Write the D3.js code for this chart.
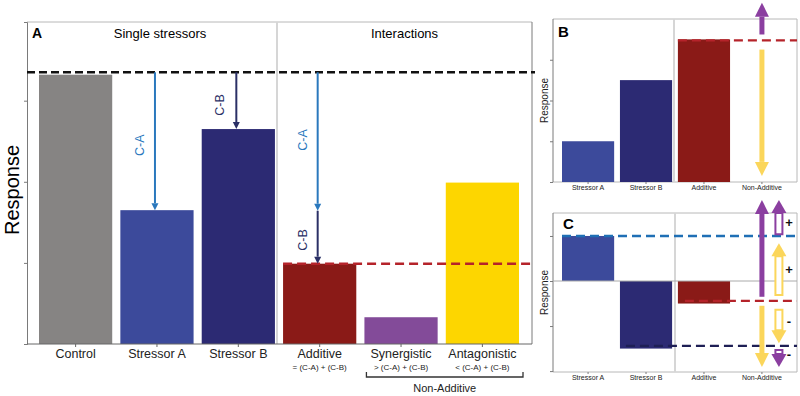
<!DOCTYPE html>
<html>
<head>
<meta charset="utf-8">
<script src="https://cdn.jsdelivr.net/npm/d3@7"></script>
<style>
  body { margin: 0; background: #fff; }
  svg text { font-family: Arial, "Liberation Sans", sans-serif; }
</style>
</head>
<body>
<div id="viz"></div>
<script>
// ---- data ----
const catsA   = ["Control", "Stressor A", "Stressor B", "Additive", "Synergistic", "Antagonistic"];
const valsA   = [3.32, 1.65, 2.65, 0.99, 0.33, 1.99];
const subA    = ["", "", "", "= (C-A) + (C-B)", "> (C-A) + (C-B)", "< (C-A) + (C-B)"];
const refA    = 3.35;                       // control reference (black dashed)
const headersA = ["Single stressors", "Interactions"];

const catsBC  = ["Stressor A", "Stressor B", "Additive", "Non-Additive"];
const valsB   = [1.0, 2.5, 3.5];
const valsC   = [1.0, -1.5, -0.5];

// conceptual arrows in panels B and C (value units), lane 0 = centre, lane 1 = right
const arrowsB = [
  { from: 3.62, to: 4.40, col: "purple", lane: 0, hollow: false },
  { from: 3.25, to: 0.15, col: "yellow", lane: 0, hollow: false }
];
const arrowsC = [
  { from: -0.35, to: 1.80, col: "purple", lane: 0, hollow: false },
  { from: -0.55, to: -1.91, col: "yellow", lane: 0, hollow: false },
  { from: 1.04, to: 1.80, col: "purple", lane: 1, hollow: true },
  { from: -0.31, to: 0.84, col: "yellow", lane: 1, hollow: true },
  { from: -0.64, to: -1.38, col: "yellow", lane: 1, hollow: true },
  { from: -1.53, to: -1.91, col: "purple", lane: 1, hollow: true }
];
const signsC = [ { v: 1.29, s: "+" }, { v: 0.24, s: "+" }, { v: -0.91, s: "-" }, { v: -1.64, s: "-" } ];

const COL = {
  "Control": "#868483", "Stressor A": "#3c4a9b", "Stressor B": "#2c2a73",
  "Additive": "#8a1a17", "Synergistic": "#834b99", "Antagonistic": "#fdd600",
  purple: "#8b3fa0", yellow: "#fbd65b", blueArrow: "#2a78bd", navyArrow: "#2b3066",
  red: "#b5232a", blueDash: "#1f6fb5", navyDash: "#1e1f55", frame: "#b8b8b8", axis: "#7a7a7a"
};

const svg = d3.select("#viz").append("svg").attr("width", 800).attr("height", 396);

// block arrow drawn from pixel coords
function blockArrow(g, x, y0, y1, shaft, headW, headL, color, hollow) {
  const dir = Math.sign(y1 - y0), yb = y1 - dir * headL;
  if (hollow) {
    g.append("path")
      .attr("d", `M${x - shaft / 2},${y0}L${x - shaft / 2},${yb}L${x + shaft / 2},${yb}L${x + shaft / 2},${y0}Z`)
      .attr("fill", "#fff").attr("stroke", color).attr("stroke-width", 2);
  } else {
    g.append("rect").attr("x", x - shaft / 2).attr("width", shaft)
      .attr("y", Math.min(y0, yb)).attr("height", Math.abs(yb - y0)).attr("fill", color);
  }
  g.append("path")
    .attr("d", `M${x - headW / 2},${yb}L${x},${y1}L${x + headW / 2},${yb}Z`)
    .attr("fill", color);
}
function thinArrow(g, x, y0, y1, color) {
  const dir = Math.sign(y1 - y0), hl = 7;
  g.append("line").attr("x1", x).attr("x2", x).attr("y1", y0).attr("y2", y1 - dir * hl)
    .attr("stroke", color).attr("stroke-width", 2);
  g.append("path").attr("d", `M${x - 3.5},${y1 - dir * hl}L${x},${y1}L${x + 3.5},${y1 - dir * hl}Z`).attr("fill", color);
}

// ================= Panel A =================
const A = { l: 27, r: 532, t: 22, b: 344, div: 277 };
const xA = d3.scaleBand().domain(catsA).range([39, 519]).paddingInner(0.1).paddingOuter(0);
const yA = d3.scaleLinear().domain([0, 3.97]).range([A.b, A.t]);
const gA = svg.append("g");

gA.append("line").attr("x1", A.l).attr("x2", A.r).attr("y1", A.t).attr("y2", A.t).attr("stroke", COL.frame);
gA.append("line").attr("x1", A.r).attr("x2", A.r).attr("y1", A.t).attr("y2", A.b).attr("stroke", COL.axis);
gA.append("line").attr("x1", A.div).attr("x2", A.div).attr("y1", A.t).attr("y2", A.b)
  .attr("stroke", "#d6d6d6").attr("stroke-width", 2);

gA.selectAll("rect.bar").data(catsA).join("rect").attr("class", "bar")
  .attr("x", d => xA(d)).attr("width", xA.bandwidth())
  .attr("y", (d, i) => yA(valsA[i])).attr("height", (d, i) => yA(0) - yA(valsA[i]))
  .attr("fill", d => COL[d]);

const axA = gA.append("g").attr("transform", `translate(${A.l},0)`)
  .call(d3.axisLeft(yA).tickValues([0, 1, 2, 3]).tickFormat("").tickSize(3));
axA.selectAll("line,path").attr("stroke", COL.axis);
const axAx = gA.append("g").attr("transform", `translate(0,${A.b})`)
  .call(d3.axisBottom(xA).tickSize(3).tickFormat(""));
axAx.select(".domain").attr("d", `M${A.l},0H${A.r}`).attr("stroke", "#666");
axAx.selectAll("line").attr("stroke", "#666");

// category labels
gA.selectAll("text.cat").data(catsA).join("text").attr("class", "cat")
  .attr("x", d => xA(d) + xA.bandwidth() / 2).attr("y", 358)
  .attr("text-anchor", "middle").attr("font-size", 12.5).attr("fill", "#222").text(d => d);
gA.selectAll("text.sub").data(subA).join("text").attr("class", "sub")
  .attr("x", (d, i) => xA(catsA[i]) + xA.bandwidth() / 2).attr("y", 370)
  .attr("text-anchor", "middle").attr("font-size", 8).attr("fill", "#222").text(d => d);

// bracket under non-additive
const bx0 = xA("Synergistic") + 2, bx1 = xA("Antagonistic") + xA.bandwidth() + 4;
gA.append("path").attr("d", `M${bx0},372V377H${bx1}V372`).attr("fill", "none")
  .attr("stroke", "#333").attr("stroke-width", 1.3);
gA.append("text").attr("x", (bx0 + bx1) / 2).attr("y", 392).attr("text-anchor", "middle")
  .attr("font-size", 11).attr("fill", "#222").text("Non-Additive");

// headers
gA.append("text").attr("x", 32).attr("y", 38).attr("font-size", 14).attr("font-weight", "bold").text("A");
gA.append("text").attr("x", (A.l + A.div) / 2 + 8).attr("y", 38).attr("text-anchor", "middle")
  .attr("font-size", 13).text(headersA[0]);
gA.append("text").attr("x", (A.div + A.r) / 2).attr("y", 38).attr("text-anchor", "middle")
  .attr("font-size", 13).text(headersA[1]);
gA.append("text").attr("transform", `translate(19,${(A.t + A.b) / 2 + 7}) rotate(-90)`)
  .attr("text-anchor", "middle").attr("font-size", 20).text("Response");

// reference lines
gA.append("line").attr("x1", A.l).attr("x2", A.r + 3).attr("y1", yA(refA)).attr("y2", yA(refA))
  .attr("stroke", "#111").attr("stroke-width", 2.6).attr("stroke-dasharray", "8,4");
gA.append("line").attr("x1", xA("Additive")).attr("x2", A.r).attr("y1", yA(valsA[3])).attr("y2", yA(valsA[3]))
  .attr("stroke", COL.red).attr("stroke-width", 2.4).attr("stroke-dasharray", "9,5");

// difference arrows
const cx = c => xA(c) + xA.bandwidth() / 2;
thinArrow(gA, cx("Stressor A") - 2, yA(refA), yA(valsA[1]), COL.blueArrow);
thinArrow(gA, cx("Stressor B") - 2, yA(refA), yA(valsA[2]), COL.navyArrow);
const midAdd = refA - (valsA[0] - valsA[1]);
thinArrow(gA, cx("Additive") - 2, yA(refA), yA(midAdd) + 3, COL.blueArrow);
thinArrow(gA, cx("Additive") - 2, yA(midAdd) + 3, yA(valsA[3]), COL.navyArrow);
const lbl = (x, y, t, c) => gA.append("text").attr("transform", `translate(${x},${y}) rotate(-90)`)
  .attr("text-anchor", "middle").attr("font-size", 12.5).attr("fill", c).text(t);
lbl(cx("Stressor A") - 13, (yA(refA) + yA(valsA[1])) / 2 + 4, "C-A", COL.blueArrow);
lbl(cx("Stressor B") - 14, 105, "C-B", COL.navyArrow);
lbl(cx("Additive") - 13, 140, "C-A", COL.blueArrow);
lbl(cx("Additive") - 13, 240, "C-B", COL.navyArrow);

// ================= Panels B and C =================
const PB = { l: 553, r: 797, t: 19, b: 182, div: 674 };
const PC = { l: 553, r: 797, t: 213, b: 372, div: 675 };
const xB = d3.scaleBand().domain(catsBC).range([562, 788]).paddingInner(0.1).paddingOuter(0);
const yB = d3.scaleLinear().domain([0, 4]).range([PB.b, PB.t]);
const yC = d3.scaleLinear().domain([-2.02, 1.51]).range([PC.b, PC.t]);

function frame(g, P, y, ticks) {
  g.append("line").attr("x1", P.l).attr("x2", P.r).attr("y1", P.t).attr("y2", P.t).attr("stroke", COL.frame);
  g.append("line").attr("x1", P.r).attr("x2", P.r).attr("y1", P.t).attr("y2", P.b).attr("stroke", COL.frame);
  g.append("line").attr("x1", P.l).attr("x2", P.r).attr("y1", P.b).attr("y2", P.b).attr("stroke", COL.frame);
  g.append("line").attr("x1", P.div).attr("x2", P.div).attr("y1", P.t).attr("y2", P.b)
    .attr("stroke", "#d6d6d6").attr("stroke-width", 2);
  const ax = g.append("g").attr("transform", `translate(${P.l},0)`)
    .call(d3.axisLeft(y).tickValues(ticks).tickFormat("").tickSize(3));
  ax.select(".domain").attr("d", `M0,${P.t}V${P.b}`);
  ax.selectAll("line,path").attr("stroke", COL.axis);
  const bx = g.append("g").attr("transform", `translate(0,${P.b})`)
    .call(d3.axisBottom(xB).tickSize(2).tickFormat(""));
  bx.select(".domain").remove();
  bx.selectAll("line").attr("stroke", COL.axis);
  g.selectAll("text.cat").data(catsBC).join("text").attr("class", "cat")
    .attr("x", d => xB(d) + xB.bandwidth() / 2).attr("y", P.b + 8)
    .attr("text-anchor", "middle").attr("font-size", 7).attr("fill", "#222").text(d => d);
  g.append("text").attr("transform", `translate(548,${(P.t + P.b) / 2}) rotate(-90)`)
    .attr("text-anchor", "middle").attr("font-size", 10).attr("fill", "#222").text("Response");
}

// ---- B ----
const gB = svg.append("g");
frame(gB, PB, yB, [0, 1, 2, 3]);
gB.selectAll("rect.bar").data(valsB).join("rect").attr("class", "bar")
  .attr("x", (d, i) => xB(catsBC[i])).attr("width", xB.bandwidth())
  .attr("y", d => yB(d)).attr("height", d => yB(0) - yB(d))
  .attr("fill", (d, i) => COL[catsBC[i]]);
gB.append("line").attr("x1", xB("Additive")).attr("x2", PB.r).attr("y1", yB(valsB[2]) + 1).attr("y2", yB(valsB[2]) + 1)
  .attr("stroke", COL.red).attr("stroke-width", 2.4).attr("stroke-dasharray", "9,5");
gB.append("text").attr("x", 558).attr("y", 37).attr("font-size", 15).attr("font-weight", "bold").text("B");
const naX = xB("Non-Additive") + xB.bandwidth() / 2;
arrowsB.forEach(a => blockArrow(gB, naX + a.lane * 17, yB(a.from), yB(a.to), 5, 14, 14, COL[a.col], a.hollow));

// ---- C ----
const gC = svg.append("g");
frame(gC, PC, yC, [-2, -1, 0, 1]);
gC.selectAll("rect.bar").data(valsC).join("rect").attr("class", "bar")
  .attr("x", (d, i) => xB(catsBC[i])).attr("width", xB.bandwidth())
  .attr("y", d => yC(Math.max(0, d))).attr("height", d => Math.abs(yC(d) - yC(0)))
  .attr("fill", (d, i) => COL[catsBC[i]]);
gC.append("line").attr("x1", PC.l).attr("x2", PC.r).attr("y1", yC(0)).attr("y2", yC(0)).attr("stroke", "#aaa");
const dashC = (x0, v, c) => gC.append("line").attr("x1", x0).attr("x2", PC.r).attr("y1", yC(v)).attr("y2", yC(v))
  .attr("stroke", c).attr("stroke-width", 2.4).attr("stroke-dasharray", "9,5");
dashC(xB("Stressor A"), valsC[0], COL.blueDash);
dashC(xB("Additive") + 7, valsC[2] + 0.06, COL.red);
dashC(xB("Stressor B") + 6, valsC[1] + 0.06, COL.navyDash);
gC.append("text").attr("x", 563).attr("y", 229).attr("font-size", 15).attr("font-weight", "bold").text("C");
arrowsC.forEach(a => {
  if (a.hollow) blockArrow(gC, naX + 17, yC(a.from), yC(a.to), 7, 15, 13, COL[a.col], true);
  else blockArrow(gC, naX, yC(a.from), yC(a.to), 5, 14, 14, COL[a.col], false);
});
gC.selectAll("text.sign").data(signsC).join("text").attr("class", "sign")
  .attr("x", 789).attr("y", d => yC(d.v) + 4).attr("text-anchor", "middle")
  .attr("font-size", 13).attr("font-weight", "bold").attr("fill", "#111").text(d => d.s);
</script>
</body>
</html>
